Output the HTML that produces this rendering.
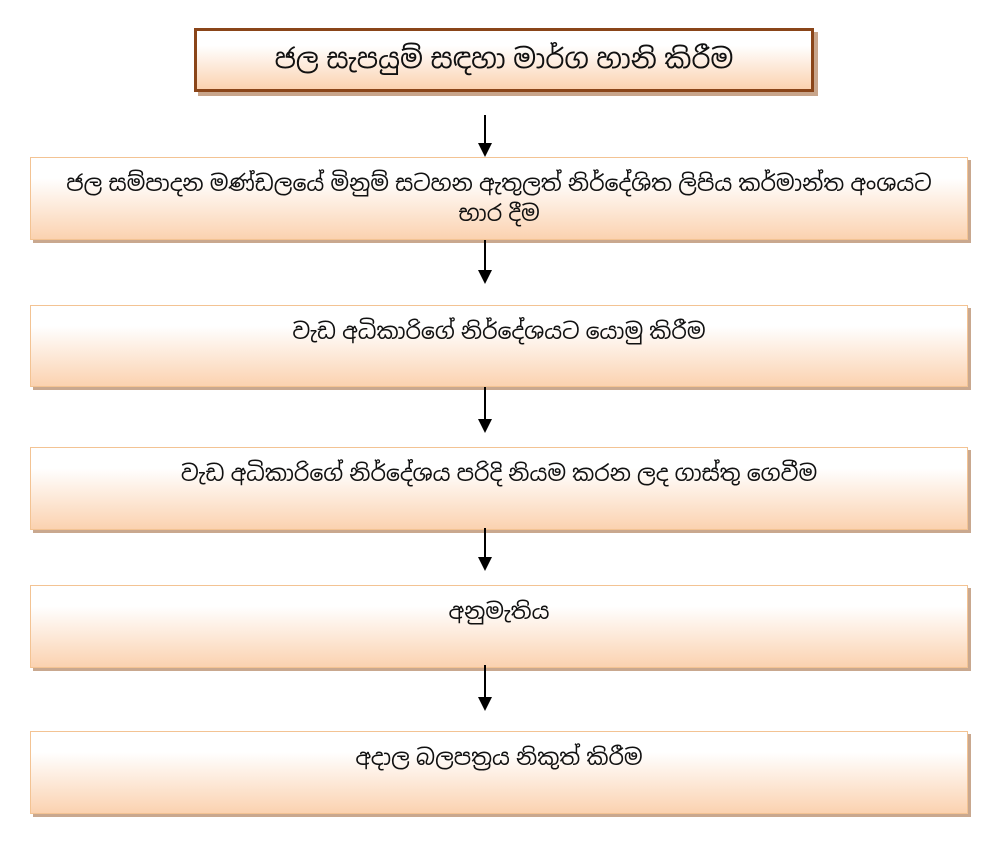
<!DOCTYPE html>
<html><head><meta charset="utf-8"><style>
body{margin:0;width:1000px;height:847px;background:#fff;position:relative;overflow:hidden;font-family:"Liberation Sans","Noto Sans Sinhala","Iskoola Pota",sans-serif;color:#111}
.b{position:absolute;left:30px;width:938px;box-sizing:border-box;border:1.5px solid #f3c393;background:linear-gradient(#fff 0%,#fff 25%,#fbd2b0 100%);box-shadow:3px 3px 0 #c9a88f;text-align:center;font-size:22px;line-height:30px;padding-top:11px}
.t{left:194px;width:620px;top:28px;height:64px;border:3px solid #8a4519;box-shadow:4px 4px 0 #c8a58b;font-size:27px;padding-top:13px}
.a{position:absolute;left:484px;width:2px;background:#000}
.h{position:absolute;left:478px;width:0;height:0;border-left:7px solid transparent;border-right:7px solid transparent;border-top:14px solid #000}
</style></head><body>
<div class="b t">ජල සැපයුම් සඳහා මාර්ග හානි කිරීම</div>
<div class="a" style="top:115px;height:30px"></div><div class="h" style="top:143px"></div>
<div class="b" style="top:157px;height:83px;padding-top:11px">ජල සම්පාදන මණ්ඩලයේ මිනුම් සටහන ඇතුලත් නිර්දේශිත ලිපිය කර්මාන්ත අංශයට<br>භාර දීම</div>
<div class="a" style="top:240px;height:30px"></div><div class="h" style="top:270px"></div>
<div class="b" style="top:305px;height:82px">වැඩ අධිකාරිගේ නිර්දේශයට යොමු කිරීම</div>
<div class="a" style="top:387px;height:32px"></div><div class="h" style="top:419px"></div>
<div class="b" style="top:447px;height:83px">වැඩ අධිකාරිගේ නිර්දේශය පරිදි නියම කරන ලද ගාස්තු ගෙවීම</div>
<div class="a" style="top:528px;height:30px"></div><div class="h" style="top:557px"></div>
<div class="b" style="top:585px;height:83px">අනුමැතිය</div>
<div class="a" style="top:665px;height:32px"></div><div class="h" style="top:697px"></div>
<div class="b" style="top:731px;height:83px">අදාල බලපත්‍රය නිකුත් කිරීම</div>
</body></html>
